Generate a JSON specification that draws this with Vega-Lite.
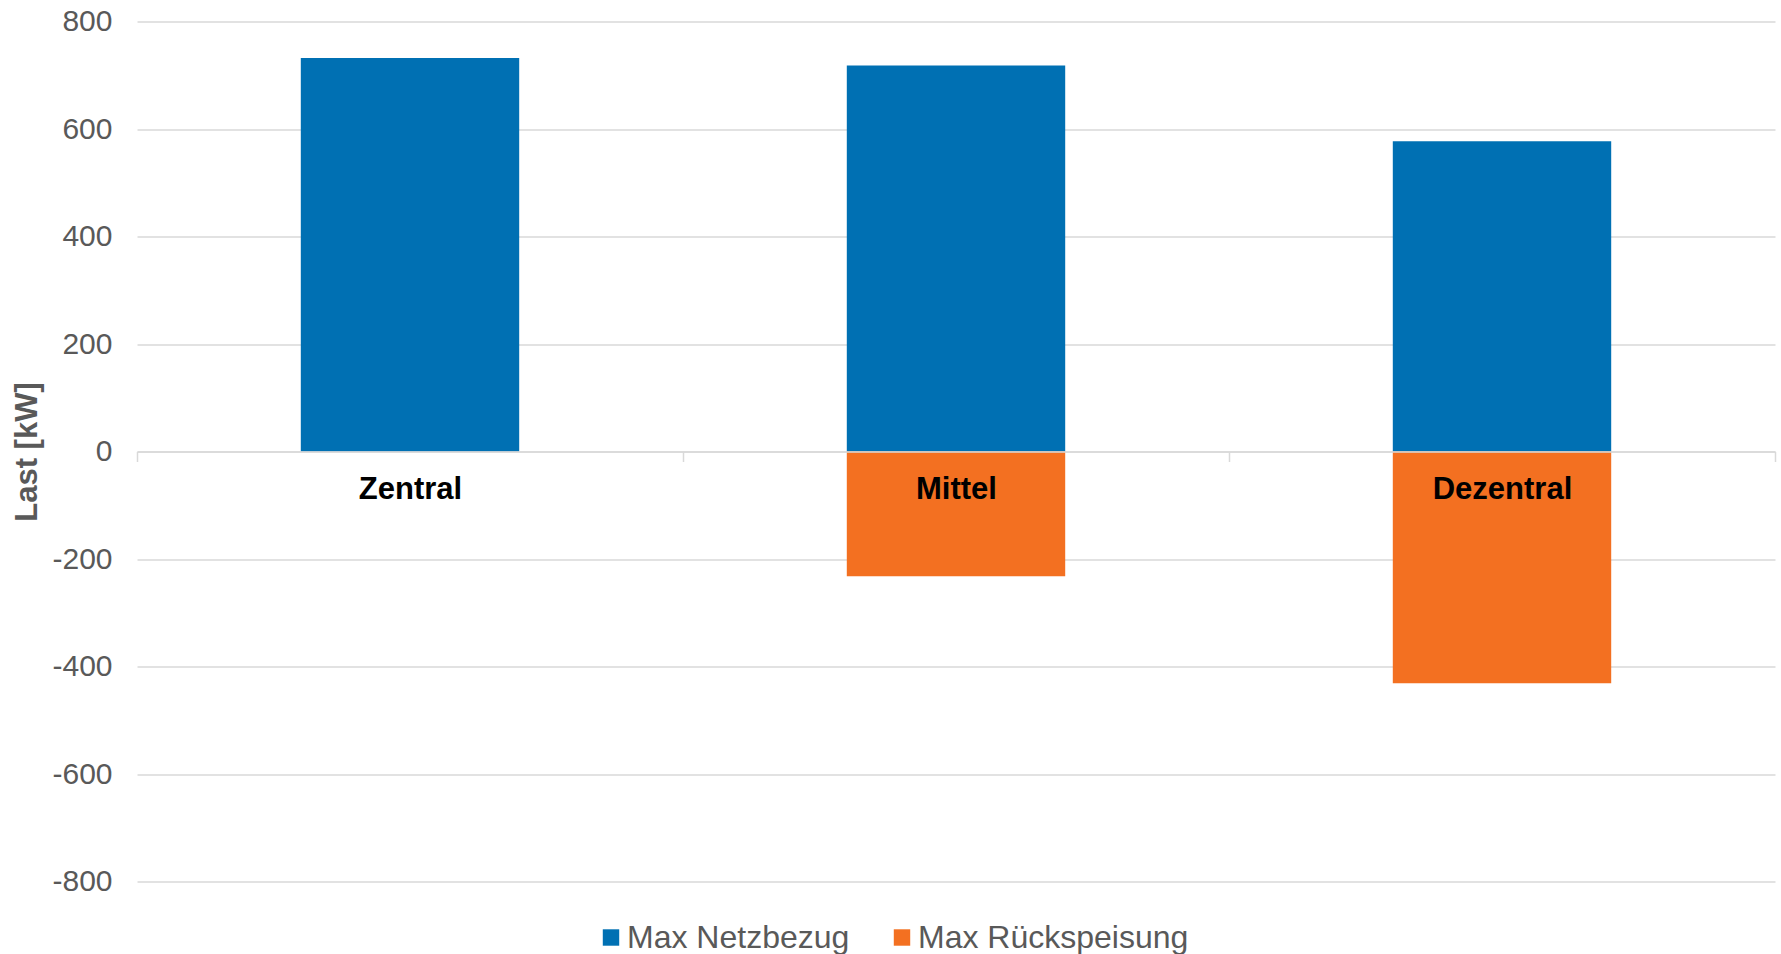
{
  "$schema": "https://vega.github.io/schema/vega-lite/v6.json",
  "autosize": {"type": "none"},
  "width": 1638,
  "height": 860,
  "padding": {"left": 137, "top": 21.5, "right": 6, "bottom": 72.5},
  "background": "white",
  "config": {
    "view": {"stroke": null},
    "font": "Liberation Sans"
  },
  "data": {
    "values": [
      {"Kategorie": "Zentral", "Serie": "Max Netzbezug", "Wert": 732},
      {"Kategorie": "Mittel", "Serie": "Max Netzbezug", "Wert": 718},
      {"Kategorie": "Dezentral", "Serie": "Max Netzbezug", "Wert": 577},
      {"Kategorie": "Zentral", "Serie": "Max Rückspeisung", "Wert": 0},
      {"Kategorie": "Mittel", "Serie": "Max Rückspeisung", "Wert": -232},
      {"Kategorie": "Dezentral", "Serie": "Max Rückspeisung", "Wert": -431}
    ]
  },
  "mark": {"type": "bar", "width": {"band": 0.4}},
  "encoding": {
    "x": {
      "field": "Kategorie",
      "type": "nominal",
      "sort": ["Zentral", "Mittel", "Dezentral"],
      "scale": {"paddingInner": 0, "paddingOuter": 0},
      "axis": {
        "title": null,
        "orient": "bottom",
        "offset": -430,
        "zindex": 1,
        "tickBand": "extent",
        "domainColor": "#d9d9d9",
        "domainWidth": 1.5,
        "tickColor": "#d9d9d9",
        "tickWidth": 1.5,
        "tickSize": 10,
        "labelAngle": 0,
        "labelFontSize": 31,
        "labelFontWeight": "bold",
        "labelColor": "#000000",
        "labelBaseline": "alphabetic",
        "labelPadding": 37,
        "grid": false
      }
    },
    "y": {
      "field": "Wert",
      "type": "quantitative",
      "stack": null,
      "scale": {"domain": [-800, 800], "nice": false},
      "axis": {
        "title": "Last [kW]",
        "titleFontSize": 31,
        "titleFontWeight": "bold",
        "titleColor": "#595959",
        "titlePadding": 8,
        "values": [-800, -600, -400, -200, 0, 200, 400, 600, 800],
        "labelExpr": "'' + datum.value",
        "labelFontSize": 30,
        "labelColor": "#595959",
        "labelPadding": 25,
        "ticks": false,
        "domain": false,
        "gridColor": "#d9d9d9",
        "gridWidth": 1.5
      }
    },
    "color": {
      "field": "Serie",
      "type": "nominal",
      "scale": {
        "domain": ["Max Netzbezug", "Max Rückspeisung"],
        "range": ["#0070B3", "#F37021"]
      },
      "legend": {
        "title": null,
        "orient": "none",
        "direction": "horizontal",
        "legendX": 458,
        "legendY": 900,
        "symbolType": "square",
        "symbolSize": 270,
        "symbolStrokeWidth": 0,
        "labelFontSize": 32,
        "labelColor": "#595959",
        "labelOffset": 0,
        "columnPadding": 36,
        "labelLimit": 400
      }
    }
  }
}
